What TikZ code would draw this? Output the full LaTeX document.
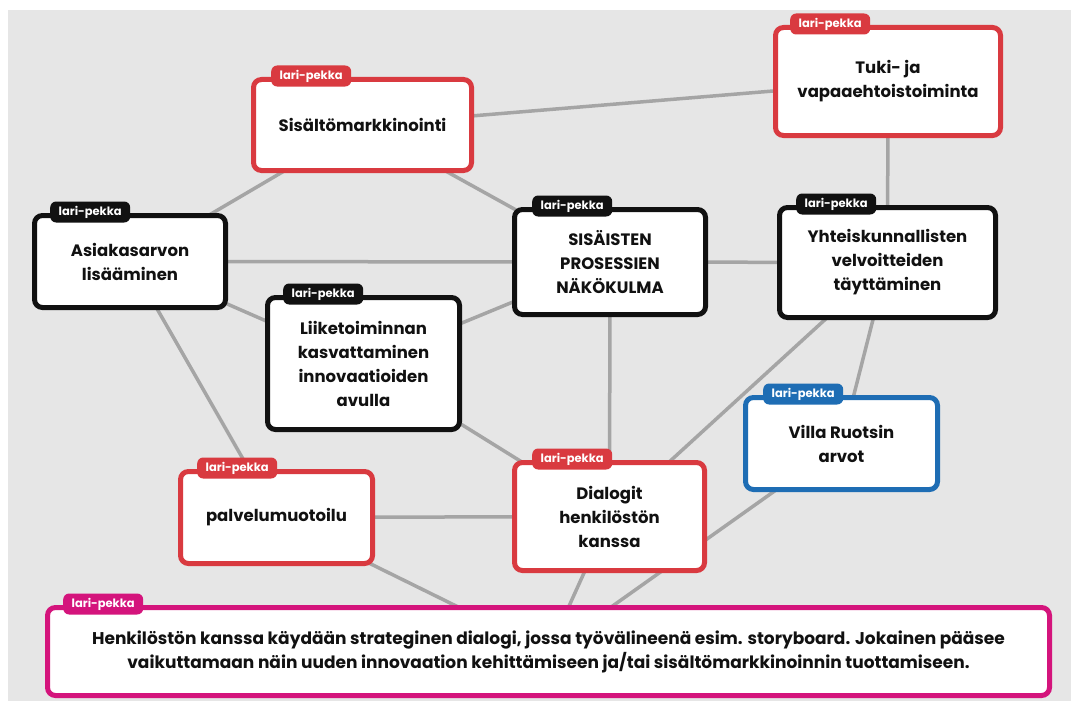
\documentclass[tikz,border=0pt]{standalone}
\usepackage{fontspec}
\setmainfont{Poppins}
\pgfdeclarelayer{bg}
\pgfdeclarelayer{edges}
\pgfsetlayers{bg,edges,main}
\definecolor{cred}{HTML}{D93A40}
\definecolor{cblue}{HTML}{1E6DB4}
\definecolor{cmag}{HTML}{D4147C}
\definecolor{cblk}{HTML}{111111}
\definecolor{cline}{HTML}{A5A5A5}
\definecolor{cbg}{HTML}{E6E6E6}
\tikzset{
  card/.style={draw=#1, line width=5pt, fill=white, rounded corners=8pt,
    align=center, font=\bfseries\fontsize{16.5}{24}\selectfont, text=cblk, inner sep=0pt},
  tag/.style={fill=#1, rounded corners=6pt, minimum width=80pt, minimum height=21pt,
    inner sep=0pt, text=white, font=\bfseries\fontsize{11.5}{12}\selectfont, anchor=west},
  link/.style={draw=cline, line width=3.5pt},
}
\begin{document}
\begin{tikzpicture}[x=1pt,y=-1pt]
\useasboundingbox (0,0) rectangle (1071,701);
\begin{pgfonlayer}{bg}
  \fill[white] (0,0) rectangle (1071,701);
  \fill[cbg] (8,10) rectangle (1071,701);
\end{pgfonlayer}

\node[card=cred, minimum width=218pt, minimum height=91pt] (sis) at (362.5,125) {Sisältömarkkinointi};
\node[card=cred, minimum width=225pt, minimum height=108pt] (tuki) at (888,81.5) {Tuki- ja\\vapaaehtoistoiminta};
\node[card=cblk, minimum width=191pt, minimum height=92pt] (asi) at (130,261.5) {Asiakasarvon\\lisääminen};
\node[card=cblk, minimum width=191pt, minimum height=105pt] (sisa) at (610,262) {SISÄISTEN\\PROSESSIEN\\NÄKÖKULMA};
\node[card=cblk, minimum width=216pt, minimum height=110pt] (yht) at (887.5,262.5) {Yhteiskunnallisten\\velvoitteiden\\täyttäminen};
\node[card=cblk, minimum width=192pt, minimum height=132pt] (lii) at (363.5,363.5) {Liiketoiminnan\\kasvattaminen\\innovaatioiden\\avulla};
\node[card=cblue, minimum width=192pt, minimum height=92pt] (vil) at (841.5,443.5) {Villa Ruotsin\\arvot};
\node[card=cred, minimum width=192pt, minimum height=92pt] (pal) at (276.5,517.5) {palvelumuotoilu};
\node[card=cred, minimum width=190pt, minimum height=108pt] (dia) at (609.5,516.5) {Dialogit\\henkilöstön\\kanssa};
\node[card=cmag, minimum width=1002pt, minimum height=88pt, font=\bfseries\fontsize{17}{24}\selectfont] (bot) at (548.5,651.5) {Henkilöstön kanssa käydään strateginen dialogi, jossa työvälineenä esim. storyboard. Jokainen pääsee\\vaikuttamaan näin uuden innovaation kehittämiseen ja/tai sisältömarkkinoinnin tuottamiseen.};

\node[tag=cred]  (tsis)  at ([xshift=20pt,yshift=1pt]sis.north west) {lari-pekka};
\node[tag=cred]  (ttuki) at ([xshift=17pt,yshift=1pt]tuki.north west) {lari-pekka};
\node[tag=cblk]  (tasi)  at ([xshift=18pt,yshift=1pt]asi.north west) {lari-pekka};
\node[tag=cblk]  (tsisa) at ([xshift=20pt,yshift=1pt]sisa.north west) {lari-pekka};
\node[tag=cblk]  (tyht)  at ([xshift=19pt,yshift=1pt]yht.north west) {lari-pekka};
\node[tag=cblk]  (tlii)  at ([xshift=18pt,yshift=1pt]lii.north west) {lari-pekka};
\node[tag=cblue] (tvil)  at ([xshift=20pt,yshift=1pt]vil.north west) {lari-pekka};
\node[tag=cred]  (tpal)  at ([xshift=19pt,yshift=1pt]pal.north west) {lari-pekka};
\node[tag=cred]  (tdia)  at ([xshift=20pt,yshift=1pt]dia.north west) {lari-pekka};
\node[tag=cmag]  (tbot)  at ([xshift=18pt,yshift=1pt]bot.north west) {lari-pekka};

\begin{pgfonlayer}{edges}
  \draw[link] (sis.center) -- (tuki.center);
  \draw[link] (sis.center) -- (asi.center);
  \draw[link] (sis.center) -- (sisa.center);
  \draw[link] (tuki.center) -- (yht.center);
  \draw[link] (asi.center) -- (sisa.center);
  \draw[link] (asi.center) -- (lii.center);
  \draw[link] (asi.center) -- (pal.center);
  \draw[link] (lii.center) -- (sisa.center);
  \draw[link] (lii.center) -- (dia.center);
  \draw[link] (sisa.center) -- (yht.center);
  \draw[link] (sisa.center) -- (dia.center);
  \draw[link] (yht.center) -- (dia.center);
  \draw[link] (yht.center) -- (vil.center);
  \draw[link] (pal.center) -- (dia.center);
  \draw[link] (pal.center) -- (bot.center);
  \draw[link] (dia.center) -- (bot.center);
  \draw[link] (vil.center) -- (bot.center);
\end{pgfonlayer}
\end{tikzpicture}
\end{document}
